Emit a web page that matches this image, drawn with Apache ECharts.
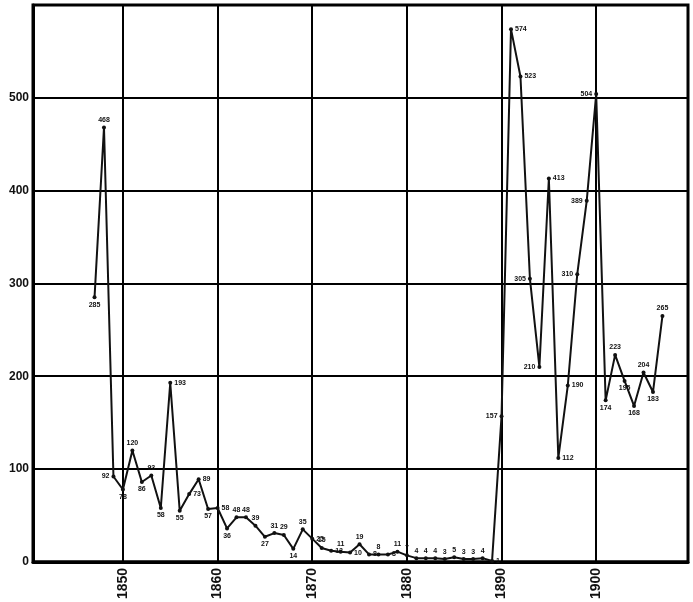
<!DOCTYPE html>
<html>
<head>
<meta charset="utf-8">
<script src="https://cdn.jsdelivr.net/npm/echarts@6/dist/echarts.min.js"></script>
<style>
html,body{margin:0;padding:0;background:#fff;}
#chart{width:693px;height:602px;}
</style>
</head>
<body>
<div id="chart"></div>
<script>
const years = [1847,1848,1849,1850,1851,1852,1853,1854,1855,1856,1857,1858,1859,
  1860,1861,1862,1863,1864,1865,1866,1867,1868,1869,
  1870,1871,1872,1873,1874,1875,1876,1877,1878,1879,
  1880,1881,1882,1883,1884,1885,1886,1887,1888,1889,
  1890,1891,1892,1893,1894,1895,1896,1897,1898,1899,
  1900,1901,1902,1903,1904,1905,1906,1907];
const values = [285,468,92,78,120,86,93,58,193,55,73,89,57,
  58,36,48,48,39,27,31,29,14,35,
  25,15,12,11,10,19,8,8,8,11,
  7,4,4,4,3,5,3,3,4,1,
  157,574,523,305,210,413,112,190,310,389,
  504,174,223,195,168,204,183,265];
const labelSides = ['bottom','top','left','bottom','top','bottom','top','bottom','right','bottom','right','right','bottom',
  'right','bottom','top','top','top','bottom','top','top','bottom','top',
  'right','top','right','top','right','top','right','top','right','top',
  'top','top','top','top','top','top','top','top','top','right',
  'left','right','right','left','left','right','right','right','left','left',
  'left','bottom','top','bottom','bottom','top','bottom','top'];
const xTickLabels = [1850,1860,1870,1880,1890,1900];
const yTickLabels = [0,100,200,300,400,500];

const data = years.map((y,i)=>({
  value:[y, values[i]],
  label:{position: labelSides[i]}
}));

const chart = echarts.init(document.getElementById('chart'));
chart.setOption({
  backgroundColor:'#ffffff',
  animation:false,
  grid:{left:33,right:5,top:5,bottom:38,show:true,borderColor:'#000',borderWidth:3},
  xAxis:{
    type:'value',min:1840.5,max:1909.7,
    axisLine:{show:true,lineStyle:{color:'#000',width:3}},
    axisTick:{show:false,customValues:xTickLabels},
    splitLine:{show:true,lineStyle:{color:'#000',width:2}},
    axisLabel:{
      customValues:xTickLabels,
      rotate:90,color:'#111',fontSize:14,fontWeight:'bold',fontFamily:'Liberation Sans',margin:6,
      formatter:v=> String(v)
    }
  },
  yAxis:{
    type:'value',min:0,max:600,interval:100,
    axisLine:{show:true,lineStyle:{color:'#000',width:3}},
    axisTick:{show:false},
    splitLine:{show:true,lineStyle:{color:'#000',width:2}},
    axisLabel:{
      color:'#111',fontSize:12,fontWeight:'bold',fontFamily:'Liberation Sans',margin:4,
      formatter:v=> yTickLabels.includes(v) ? String(v) : ''
    }
  },
  series:[{
    type:'line',
    data:data,
    symbol:'circle',symbolSize:4,
    itemStyle:{color:'#111'},
    lineStyle:{color:'#111',width:2},
    z:5,
    label:{show:true,fontSize:7,fontWeight:'bold',color:'#111',fontFamily:'Liberation Sans',distance:2,
      formatter:p=>String(p.value[1])}
  }]
});
</script>
</body>
</html>
